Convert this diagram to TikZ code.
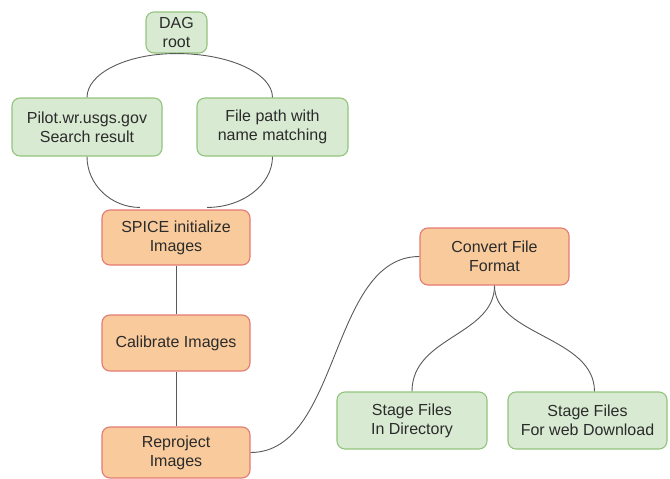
\documentclass[tikz,border=0pt]{standalone}
\usepackage{fontspec}
\setmainfont{Liberation Sans}
\definecolor{gfill}{HTML}{D9EAD3}
\definecolor{gdraw}{HTML}{93C47D}
\definecolor{ofill}{HTML}{F9CB9C}
\definecolor{odraw}{HTML}{E06666}
\definecolor{txt}{HTML}{2B2B2B}
\definecolor{wire}{HTML}{595959}
\begin{document}
\begin{tikzpicture}[x=1pt,y=-1pt,
  box/.style={rectangle,rounded corners=8pt,line width=1.1pt,inner sep=0pt,
    align=center,text=txt,font=\fontsize{16}{19}\selectfont},
  gbox/.style={box,fill=gfill,draw=gdraw},
  obox/.style={box,fill=ofill,draw=odraw!80!ofill},
  wireline/.style={draw=wire,line width=0.9pt}]
\useasboundingbox (0,0) rectangle (670,479);
\node[gbox,minimum width=61pt,minimum height=41pt] (dag) at (176.5,32.5) {DAG\\root};
\node[gbox,minimum width=150pt,minimum height=58pt] (pilot) at (87,127) {Pilot.wr.usgs.gov\\Search result};
\node[gbox,minimum width=151pt,minimum height=58pt] (fpath) at (272.5,127) {File path with\\name matching};
\node[obox,minimum width=148pt,minimum height=55pt] (spice) at (176,237.5) {SPICE initialize\\Images};
\node[obox,minimum width=148pt,minimum height=56pt] (calib) at (176,343) {Calibrate Images};
\node[obox,minimum width=148pt,minimum height=51pt] (repro) at (176,452.5) {Reproject\\Images};
\node[obox,minimum width=149pt,minimum height=57pt] (conv) at (494.5,256.5) {Convert File\\Format};
\node[gbox,minimum width=150pt,minimum height=57pt] (sdir) at (412,420.5) {Stage Files\\In Directory};
\node[gbox,minimum width=159pt,minimum height=57pt] (sweb) at (587.5,420.5) {Stage Files\\For web Download};
\draw[wireline] (dag.south) .. controls +(-50,0) and +(0,-24) .. (pilot.north);
\draw[wireline] (dag.south) .. controls +(53,0) and +(0,-24) .. (fpath.north);
\draw[wireline] (pilot.south) .. controls +(0,28) and +(-29,0) .. ([xshift=-36pt,yshift=2pt]spice.north);
\draw[wireline] (fpath.south) .. controls +(0,28) and +(36,0) .. ([xshift=31pt,yshift=2pt]spice.north);
\draw[wireline] (spice.south) -- (calib.north);
\draw[wireline] (calib.south) -- (repro.north);
\draw[wireline] (repro.east) .. controls +(90,0) and +(-90,0) .. (conv.west);
\draw[wireline] (conv.south) .. controls +(0,50) and +(0,-55) .. (sdir.north);
\draw[wireline] (conv.south) .. controls +(0,50) and +(0,-55) .. ([xshift=7pt]sweb.north);
\end{tikzpicture}
\end{document}
